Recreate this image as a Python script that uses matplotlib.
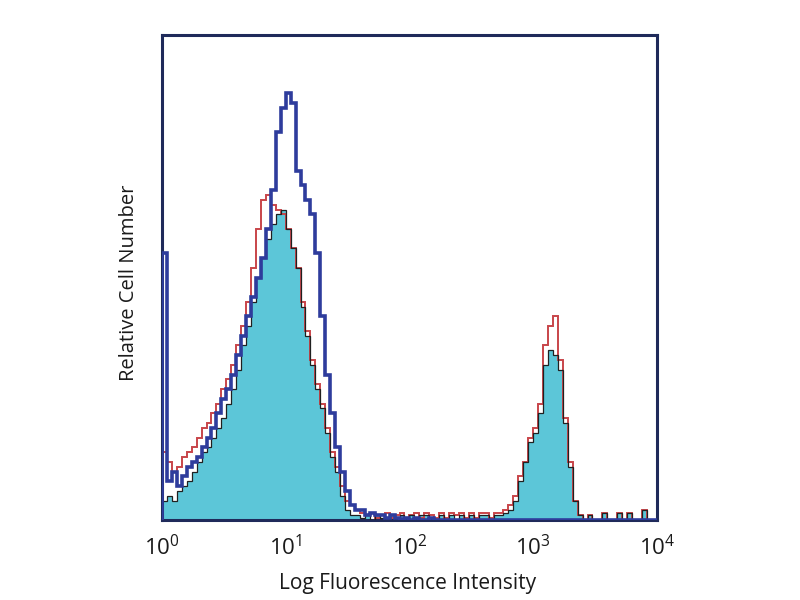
import numpy as np
import matplotlib
matplotlib.use("Agg")
import matplotlib.pyplot as plt

# histogram bins: 100 log-spaced bins from 10^0 to 10^4
edges = np.logspace(0, 4, 101)

cyan = [
    4, 5, 4, 6, 7, 8, 10, 12, 14, 15,
    17, 19, 21, 24, 27, 31, 36, 40, 45, 50,
    54, 58, 61, 63, 64, 60, 56, 52, 44, 38,
    32, 27, 23, 18, 13, 10, 5, 2, 1, 1,
    0.5, 1, 0, 1, 0.5, 0, 1, 0, 1, 0,
    1, 0, 1, 1, 0, 0, 1, 0, 1, 0,
    1, 0, 1, 0, 1, 1, 0, 1, 1, 1.5,
    2, 4, 8, 12, 16, 18, 22, 32, 35, 34,
    31, 20, 11, 4, 1, 0, 1, 0, 0, 1.5,
    0, 0, 1.5, 0, 1.5, 0, 0, 2, 0, 0]

red = [
    14, 12, 10, 11, 13, 14, 15, 17, 19, 20,
    22, 24, 27, 29, 32, 36, 40, 45, 52, 60,
    66, 67, 65, 64, 63, 60, 56, 52, 45, 39,
    33, 28, 24, 19, 14, 11, 7, 4, 3, 2,
    1.5, 1, 1.5, 0.5, 1, 1.5, 0.5, 1, 1.5, 0.5,
    1, 1.5, 0.5, 1.5, 1, 0.5, 1.5, 0.5, 1.5, 1,
    1.5, 0.5, 1.5, 0.5, 1.5, 1.5, 0.5, 1.5, 1.5, 2,
    3, 5, 9, 12, 17, 19, 24, 36, 40, 42,
    33, 21, 12, 4, 1, 0, 1, 0, 0, 1.5,
    0, 0, 1.5, 0, 1.5, 0, 0, 2, 0, 0]

blue = [
    55, 8, 10, 7, 9, 11, 12, 13, 15, 17,
    19, 22, 25, 27, 30, 34, 38, 42, 46, 50,
    54, 60, 68, 80, 85, 88, 86, 72, 69, 66,
    63, 55, 42, 30, 22, 15, 10, 6, 3, 2,
    2, 1, 1.5, 1, 1, 0.5, 1, 0.5, 0, 0.5,
    0, 0.5, 0, 0, 0.5, 0, 0, 0, 0, 0,
    0, 0, 0, 0, 0, 0, 0, 0, 0, 0,
    0, 0, 0, 0, 0, 0, 0, 0, 0, 0,
    0, 0, 0, 0, 0, 0, 0, 0, 0, 0,
    0, 0, 0, 0, 0, 0, 0, 0, 0, 0]

tick_vals = [1, 10, 100, 1000, 10000]
tick_labels = [r"$10^{0}$", r"$10^{1}$", r"$10^{2}$", r"$10^{3}$", r"$10^{4}$"]

plt.rcParams['font.family'] = ['Open Sans', 'DejaVu Sans']
plt.rcParams['mathtext.fontset'] = 'custom'
plt.rcParams['mathtext.rm'] = 'Open Sans'
plt.rcParams['mathtext.it'] = 'Open Sans'
plt.rcParams['mathtext.bf'] = 'Open Sans'

fig = plt.figure(figsize=(8, 6), dpi=100)
ax = fig.add_axes([0.2025, 0.1333, 0.6185, 0.8084])

ax.stairs(cyan, edges, fill=True, color='#5cc6d8', zorder=1)
ax.stairs(red, edges, color='#c8454a', lw=1.4, zorder=2)
ax.stairs(cyan, edges, color='#202020', lw=0.9, zorder=3)
ax.stairs(blue, edges, color='#2e3c9c', lw=2.6, zorder=4)

ax.set_xscale('log')
ax.set_xlim(1, 10000)
ax.set_ylim(0, 100)
ax.set_xticks(tick_vals)
ax.set_xticklabels(tick_labels)
ax.minorticks_off()
ax.set_yticks([])
ax.tick_params(axis='x', length=0, pad=11, labelsize=16, labelcolor='#1a1a1a')

for s in ax.spines.values():
    s.set_color('#1f2a5a')
    s.set_linewidth(2.2)

fig.text(408 / 800, 1 - 583 / 600, "Log Fluorescence Intensity", ha='center', va='center',
         fontsize=15, color='#1a1a1a')
fig.text(129 / 800, 1 - 283 / 600, "Relative Cell Number", ha='center', va='center',
         rotation=90, fontsize=14.5, color='#1a1a1a')

fig.savefig("out.png", dpi=100, facecolor='white')
